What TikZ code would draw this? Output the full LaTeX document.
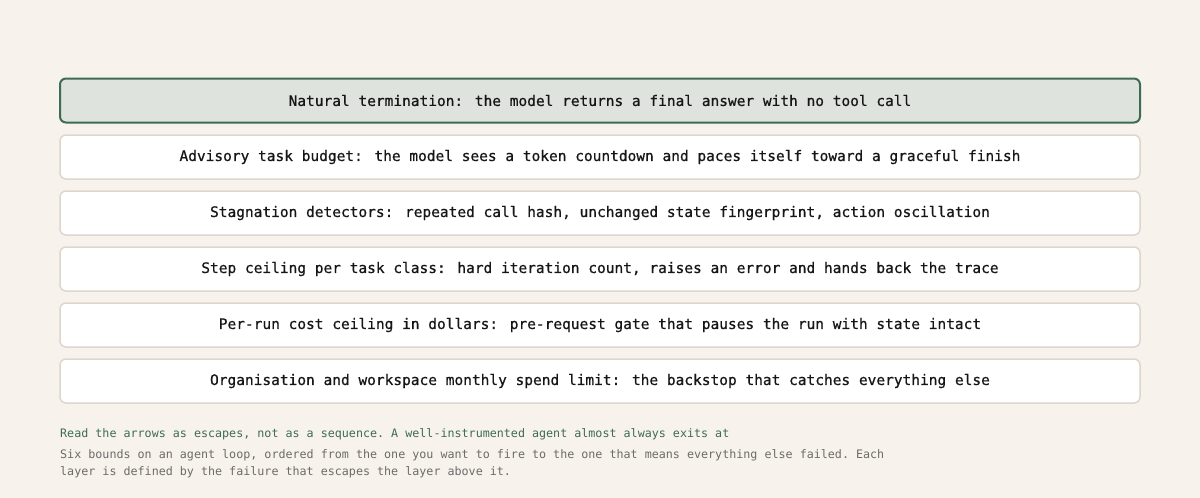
\documentclass[tikz,border=0pt]{standalone}
\usepackage{fontspec}
\setmonofont{DejaVu Sans Mono}
\newfontfamily\boxfont[FakeBold=0.6]{DejaVu Sans Mono}
\definecolor{bg}{HTML}{F7F3EC}
\definecolor{hifill}{HTML}{DFE3DD}
\definecolor{hiedge}{HTML}{3D6B55}
\definecolor{edge}{HTML}{DCD6CC}
\definecolor{ink}{HTML}{161616}
\definecolor{note}{HTML}{3D6B55}
\definecolor{grey}{HTML}{6B6B6B}
\tikzset{
  layer/.style={draw=edge, line width=1.5pt, fill=white, rounded corners=6pt,
    minimum width=1080pt, minimum height=44pt, inner sep=0pt,
    font=\boxfont\fontsize{14.5pt}{17pt}\selectfont, text=ink},
  toplayer/.style={layer, draw=hiedge, fill=hifill, line width=2pt},
  caption/.style={anchor=west, inner sep=0pt, font=\ttfamily\fontsize{11.7pt}{17pt}\selectfont}
}
\begin{document}
\begin{tikzpicture}[x=1pt,y=-1pt]
\fill[bg] (0,0) rectangle (1200,498);
\useasboundingbox (0,0) rectangle (1200,498);
\node[toplayer] (l1) at (600,100.5) {\raisebox{-1pt}{Natural termination: the model returns a final answer with no tool call}};
\node[layer] (l2) at (600,157) {\raisebox{-1pt}{Advisory task budget: the model sees a token countdown and paces itself toward a graceful finish}};
\node[layer] (l3) at (600,213) {\raisebox{-1pt}{Stagnation detectors: repeated call hash, unchanged state fingerprint, action oscillation}};
\node[layer] (l4) at (600,269) {\raisebox{-1pt}{Step ceiling per task class: hard iteration count, raises an error and hands back the trace}};
\node[layer] (l5) at (600,325) {\raisebox{-1pt}{Per-run cost ceiling in dollars: pre-request gate that pauses the run with state intact}};
\node[layer] (l6) at (600,381) {\raisebox{-1pt}{Organisation and workspace monthly spend limit: the backstop that catches everything else}};
\node[caption, text=note] (n1) at (60,434) {Read the arrows as escapes, not as a sequence. A well-instrumented agent almost always exits at};
\node[caption, text=grey] (n2) at (60,455) {Six bounds on an agent loop, ordered from the one you want to fire to the one that means everything else failed. Each};
\node[caption, text=grey] (n3) at (60,472) {layer is defined by the failure that escapes the layer above it.};
\end{tikzpicture}
\end{document}
